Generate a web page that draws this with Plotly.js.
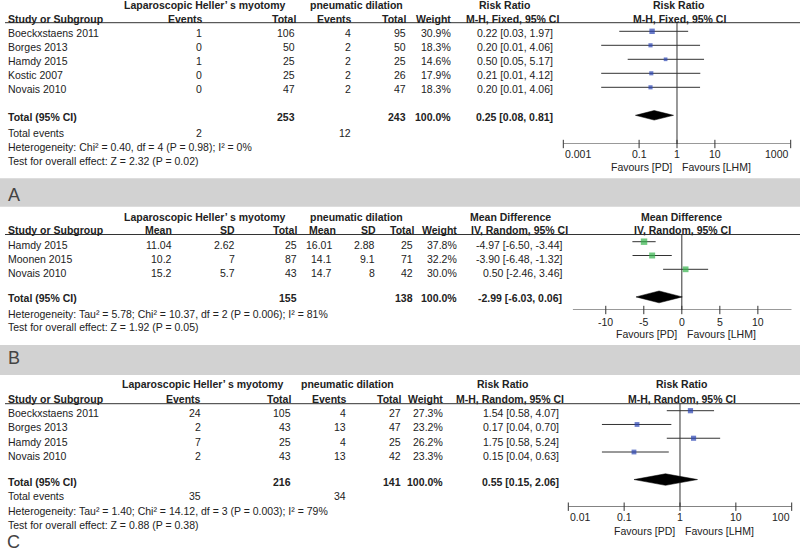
<!DOCTYPE html>
<html><head><meta charset="utf-8">
<script src="https://cdn.plot.ly/plotly-3.0.1.min.js"></script>
<style>html,body{margin:0;padding:0;background:#fff;}#chart{width:800px;height:551px;}</style>
</head><body><div id="chart"></div>
<script>
// ---------------- Panel A data (Risk Ratio, M-H Fixed) ----------------
const studiesA = ["Boeckxstaens 2011","Borges 2013","Hamdy 2015","Kostic 2007","Novais 2010"];
const lhmEventsA = [1,0,1,0,0];
const lhmTotalA = [106,50,25,25,47];
const pdEventsA = [4,2,2,2,2];
const pdTotalA = [95,50,25,26,47];
const weightA = [30.9,18.3,14.6,17.9,18.3];
const rrA = [0.22,0.20,0.50,0.21,0.20];
const rrLowA = [0.03,0.01,0.05,0.01,0.01];
const rrHighA = [1.97,4.06,5.17,4.12,4.06];
const pooledA = {est:0.25, low:0.08, high:0.81};
const totalsA = {lhm:253, pd:243, weight:100.0};
const totalEventsA = {lhm:2, pd:12};
const hetA = "Heterogeneity: Chi² = 0.40, df = 4 (P = 0.98); I² = 0%";
const testA = "Test for overall effect: Z = 2.32 (P = 0.02)";
const tickValsA = [0.001,0.1,1,10,1000];
const tickTextA = ["0.001","0.1","1","10","1000"];

// ---------------- Panel B data (Mean Difference, IV Random) ----------------
const studiesB = ["Hamdy 2015","Moonen 2015","Novais 2010"];
const lhmMeanB = [11.04,10.2,15.2];
const lhmSDB = [2.62,7,5.7];
const lhmTotalB = [25,87,43];
const pdMeanB = [16.01,14.1,14.7];
const pdSDB = [2.88,9.1,8];
const pdTotalB = [25,71,42];
const weightB = [37.8,32.2,30.0];
const mdB = [-4.97,-3.90,0.50];
const mdLowB = [-6.50,-6.48,-2.46];
const mdHighB = [-3.44,-1.32,3.46];
const pooledB = {est:-2.99, low:-6.03, high:0.06};
const totalsB = {lhm:155, pd:138, weight:100.0};
const hetB = "Heterogeneity: Tau² = 5.78; Chi² = 10.37, df = 2 (P = 0.006); I² = 81%";
const testB = "Test for overall effect: Z = 1.92 (P = 0.05)";
const tickValsB = [-10,-5,0,5,10];
const tickTextB = ["-10","-5","0","5","10"];

// ---------------- Panel C data (Risk Ratio, M-H Random) ----------------
const studiesC = ["Boeckxstaens 2011","Borges 2013","Hamdy 2015","Novais 2010"];
const lhmEventsC = [24,2,7,2];
const lhmTotalC = [105,43,25,43];
const pdEventsC = [4,13,4,13];
const pdTotalC = [27,47,25,42];
const weightC = [27.3,23.2,26.2,23.3];
const rrC = [1.54,0.17,1.75,0.15];
const rrLowC = [0.58,0.04,0.58,0.04];
const rrHighC = [4.07,0.70,5.24,0.63];
const pooledC = {est:0.55, low:0.15, high:2.06};
const totalsC = {lhm:216, pd:141, weight:100.0};
const totalEventsC = {lhm:35, pd:34};
const hetC = "Heterogeneity: Tau² = 1.40; Chi² = 14.12, df = 3 (P = 0.003); I² = 79%";
const testC = "Test for overall effect: Z = 0.88 (P = 0.38)";
const tickValsC = [0.01,0.1,1,10,100];
const tickTextC = ["0.01","0.1","1","10","100"];

const groupLHM = "Laparoscopic Heller’ s myotomy";
const groupPD = "pneumatic dilation";
const favourLeft = "Favours [PD]";
const favourRight = "Favours [LHM]";

// ---------------- layout helpers ----------------
const W = 800, H = 551;
const FONT = "Liberation Sans, Arial, Helvetica, sans-serif";
const FS = 10.5, TXT = "#222", LINE = "#333";
const BLUE = "#2b45b3", GREEN = "#34b44b";
const fx = p => p / W, fy = p => 1 - p / H;
const annotations = [], shapes = [], traces = [];

function T(text, x, y, anchor, bold, extra) {
  annotations.push(Object.assign({
    xref: 'paper', yref: 'paper', x: fx(x), y: fy(y), xanchor: anchor, yanchor: 'middle',
    text: bold ? '<b>' + text + '</b>' : String(text), showarrow: false,
    font: {family: FONT, size: FS, color: TXT}
  }, extra || {}));
}
const f2 = v => v.toFixed(2);
const ci = (e, l, h) => f2(e) + ' [' + f2(l) + ', ' + f2(h) + ']';
const pct = w => w.toFixed(1) + '%';

function forest(p) {
  const ax = p.axis; // '', '2', '3'
  const xa = 'x' + ax, ya = 'y' + ax;
  const rowOf = px => (px - p.row0) / p.step;
  const axisRow = rowOf(p.axisPx), topRow = rowOf(p.topPx), ulRow = rowOf(p.underline);
  const n = p.est.length, totRow = n + 1;
  const nullV = p.log ? 1 : 0;
  const toData = r => p.log ? Math.pow(10, r) : r;       // axis units -> data
  const toAnn = v => p.log ? Math.log10(v) : v;          // data -> annotation coordinate
  const base = {type:'scatter', xaxis:xa, yaxis:ya, cliponaxis:false, hoverinfo:'skip'};
  // horizontal axis line
  traces.push(Object.assign({}, base, {mode:'lines', x:[toData(p.range[0]), toData(p.range[1])], y:[axisRow, axisRow],
    line:{color:LINE, width:1}}));
  // null line
  traces.push(Object.assign({}, base, {mode:'lines', x:[nullV, nullV], y:[ulRow, axisRow], line:{color:LINE, width:1}}));
  // CI lines
  const cx = [], cy = [];
  for (let i = 0; i < n; i++) { cx.push(p.low[i], p.high[i], null); cy.push(i, i, null); }
  traces.push(Object.assign({}, base, {mode:'lines', x:cx, y:cy, line:{color:LINE, width:1}}));
  // squares
  traces.push(Object.assign({}, base, {mode:'markers', x:p.est, y:p.est.map((_, i) => i),
    marker:{symbol:'square', color:p.color, size:p.w.map(w => Math.sqrt(w) * p.sq), line:{width:0}}}));
  // diamond
  const d = p.pooled, h = p.dh;
  traces.push(Object.assign({}, base, {mode:'lines',
    x:[d.low, d.est, d.high, d.est, d.low], y:[totRow, totRow - h, totRow, totRow + h, totRow],
    fill:'toself', fillcolor:'#000', line:{color:'#000', width:0.5}}));
  // crossing ticks
  traces.push(Object.assign({}, base, {mode:'markers', x:p.tickVals, y:p.tickVals.map(() => axisRow),
    marker:{symbol:'line-ns', size:6, line:{width:1, color:LINE}}}));
  // tick labels (end labels kept inside the axis as in the reference)
  p.tickVals.forEach((v, i) => {
    let anchor = 'center';
    if (p.insetEnds && i === 0) anchor = 'left';
    if (p.insetEnds && i === p.tickVals.length - 1) anchor = 'right';
    annotations.push({xref:xa, yref:'paper', x:toAnn(v), y:fy(p.tickY), xanchor:anchor, yanchor:'middle',
      xshift: anchor === 'left' ? 0 : (anchor === 'right' ? 0 : 0),
      text:p.tickText[i], showarrow:false, font:{family:FONT, size:FS, color:TXT}});
  });

  p.layout['xaxis' + ax] = {domain:[fx(p.xPx[0]), fx(p.xPx[1])], anchor:ya, type:p.log ? 'log' : 'linear',
    range:p.range, showgrid:false, zeroline:false, showline:false, ticks:'', showticklabels:false, fixedrange:true};
  p.layout['yaxis' + ax] = {domain:[fy(p.axisPx), fy(p.topPx)], anchor:xa, range:[axisRow, topRow],
    visible:false, fixedrange:true};
  // underline of the header
  shapes.push({type:'line', xref:'paper', yref:'paper', x0:fx(5), x1:1, y0:fy(p.underline), y1:fy(p.underline),
    line:{color:LINE, width:1}});
  // plot-column headers
  const ph = (text, y, sh) => annotations.push({xref:xa, yref:'paper', x:toAnn(nullV), y:fy(y), xanchor:'center',
    yanchor:'middle', xshift:sh, text:'<b>' + text + '</b>', showarrow:false, font:{family:FONT, size:FS, color:TXT}});
  ph(p.hdr1, p.h1, p.hs1); ph(p.hdr2, p.h2, p.hs2);
  // favours
  annotations.push({xref:xa, yref:'paper', x:toAnn(nullV), y:fy(p.favY), xanchor:'right', yanchor:'middle', xshift:-3,
    text:favourLeft, showarrow:false, font:{family:FONT, size:FS, color:TXT}});
  annotations.push({xref:xa, yref:'paper', x:toAnn(nullV), y:fy(p.favY), xanchor:'left', yanchor:'middle', xshift:3,
    text:favourRight, showarrow:false, font:{family:FONT, size:FS, color:TXT}});
}

const layout = {
  width:W, height:H, margin:{l:0, r:0, t:0, b:0}, paper_bgcolor:'#fff', plot_bgcolor:'rgba(0,0,0,0)',
  showlegend:false, hovermode:false, font:{family:FONT, size:FS, color:TXT}
};

// ---------------- Panel A ----------------
forest({axis:'', layout, est:rrA, low:rrLowA, high:rrHighA, w:weightA, pooled:pooledA, color:BLUE, sq:0.97, dh:0.34,
  log:true, range:[-3, 3], xPx:[563.3, 790.7], tickVals:tickValsA, tickText:tickTextA, insetEnds:true, tickY:154,
  row0:31.3, step:14, axisPx:144, topPx:3, underline:22.7, favY:166.7,
  hdr1:"Risk Ratio", hdr2:"M-H, Fixed, 95% CI", h1:5, h2:19, hs1:1, hs2:2});
(function () {
  const h1 = 5, h2 = 19, y0 = 33.3, st = 14;
  T(groupLHM, 204.5, h1, 'center', true); T(groupPD, 356, h1, 'center', true); T("Risk Ratio", 504, h1, 'center', true);
  T("Study or Subgroup", 6, h2, 'left', true); T("Events", 205, h2, 'right', true); T("Total", 297.5, h2, 'right', true);
  T("Events", 353.5, h2, 'right', true); T("Total", 407.5, h2, 'right', true); T("Weight", 452.5, h2, 'right', true);
  T("M-H, Fixed, 95% CI", 512.5, h2, 'center', true);
  studiesA.forEach((s, i) => {
    const y = y0 + i * st;
    T(s, 6, y, 'left'); T(lhmEventsA[i], 204, y, 'right'); T(lhmTotalA[i], 297, y, 'right');
    T(pdEventsA[i], 353, y, 'right'); T(pdTotalA[i], 407.5, y, 'right'); T(pct(weightA[i]), 452.5, y, 'right');
    T(ci(rrA[i], rrLowA[i], rrHighA[i]), 555, y, 'right');
  });
  const yt = 117.3;
  T("Total (95% CI)", 6, yt, 'left', true); T(totalsA.lhm, 297, yt, 'right', true); T(totalsA.pd, 407.5, yt, 'right', true);
  T(pct(totalsA.weight), 452.5, yt, 'right', true); T(ci(pooledA.est, pooledA.low, pooledA.high), 555, yt, 'right', true);
  T("Total events", 6, 133.3, 'left'); T(totalEventsA.lhm, 204, 133.3, 'right'); T(totalEventsA.pd, 353, 133.3, 'right');
  T(hetA, 6, 146.7, 'left'); T(testA, 6, 160.7, 'left');
})();
shapes.push({type:'rect', xref:'paper', yref:'paper', x0:0, x1:1, y0:fy(206.7), y1:fy(178.3), fillcolor:'#d2d2d2', line:{width:0}, layer:'below'});
T("A", 6, 194.8, 'left', false, {font:{family:FONT, size:18, color:'#444'}});

// ---------------- Panel B ----------------
forest({axis:'2', layout, est:mdB, low:mdLowB, high:mdHighB, w:weightB, pooled:pooledB, color:GREEN, sq:1.05, dh:0.43,
  log:false, range:[-14.35, 14.45], xPx:[572.7, 791.7], tickVals:tickValsB, tickText:tickTextB, insetEnds:false, tickY:321.7,
  row0:241.7, step:13.8, axisPx:310, topPx:212, underline:234.5, favY:334,
  hdr1:"Mean Difference", hdr2:"IV, Random, 95% CI", h1:216.7, h2:230, hs1:0, hs2:1});
(function () {
  const h1 = 216.7, h2 = 230, y0 = 245, st = 13.85;
  T(groupLHM, 204.5, h1, 'center', true); T(groupPD, 356.7, h1, 'center', true); T("Mean Difference", 510.5, h1, 'center', true);
  T("Study or Subgroup", 6, h2, 'left', true); T("Mean", 173.5, h2, 'right', true); T("SD", 236.5, h2, 'right', true);
  T("Total", 299, h2, 'right', true); T("Mean", 337.5, h2, 'right', true); T("SD", 377.5, h2, 'right', true);
  T("Total", 416, h2, 'right', true); T("Weight", 459, h2, 'right', true); T("IV, Random, 95% CI", 519, h2, 'center', true);
  studiesB.forEach((s, i) => {
    const y = y0 + i * st;
    T(s, 6, y, 'left'); T(String(lhmMeanB[i]), 173.5, y, 'right'); T(String(lhmSDB[i]), 236.5, y, 'right');
    T(lhmTotalB[i], 299, y, 'right'); T(String(pdMeanB[i]), 334, y, 'right'); T(String(pdSDB[i]), 377, y, 'right');
    T(pdTotalB[i], 415, y, 'right'); T(pct(weightB[i]), 459, y, 'right');
    T(ci(mdB[i], mdLowB[i], mdHighB[i]), 564, y, 'right');
  });
  const yt = 298.3;
  T("Total (95% CI)", 6, yt, 'left', true); T(totalsB.lhm, 299, yt, 'right', true); T(totalsB.pd, 415, yt, 'right', true);
  T(pct(totalsB.weight), 459, yt, 'right', true); T(ci(pooledB.est, pooledB.low, pooledB.high), 564, yt, 'right', true);
  T(hetB, 6, 313.5, 'left'); T(testB, 6, 327, 'left');
})();
shapes.push({type:'rect', xref:'paper', yref:'paper', x0:0, x1:1, y0:fy(375), y1:fy(345), fillcolor:'#d2d2d2', line:{width:0}, layer:'below'});
T("B", 6, 358.3, 'left', false, {font:{family:FONT, size:18, color:'#444'}});

// ---------------- Panel C ----------------
forest({axis:'3', layout, est:rrC, low:rrLowC, high:rrHighC, w:weightC, pooled:pooledC, color:BLUE, sq:1.0, dh:0.42,
  log:true, range:[-2, 2], xPx:[568.3, 791.7], tickVals:tickValsC, tickText:tickTextC, insetEnds:true, tickY:516.7,
  row0:410.7, step:13.77, axisPx:506.7, topPx:380, underline:403.7, favY:530.7,
  hdr1:"Risk Ratio", hdr2:"M-H, Random, 95% CI", h1:384.3, h2:399, hs1:1, hs2:2});
(function () {
  const h1 = 384.3, h2 = 399, y0 = 413.3, st = 14.1;
  T(groupLHM, 202.5, h1, 'center', true); T(groupPD, 347.5, h1, 'center', true); T("Risk Ratio", 502.7, h1, 'center', true);
  T("Study or Subgroup", 6, h2, 'left', true); T("Events", 203, h2, 'right', true); T("Total", 293, h2, 'right', true);
  T("Events", 348.5, h2, 'right', true); T("Total", 402.5, h2, 'right', true); T("Weight", 445, h2, 'right', true);
  T("M-H, Random, 95% CI", 510, h2, 'center', true);
  studiesC.forEach((s, i) => {
    const y = y0 + i * st;
    T(s, 6, y, 'left'); T(lhmEventsC[i], 202.5, y, 'right'); T(lhmTotalC[i], 293, y, 'right');
    T(pdEventsC[i], 348, y, 'right'); T(pdTotalC[i], 402.5, y, 'right'); T(pct(weightC[i]), 445, y, 'right');
    T(ci(rrC[i], rrLowC[i], rrHighC[i]), 561, y, 'right');
  });
  const yt = 481.7;
  T("Total (95% CI)", 6, yt, 'left', true); T(totalsC.lhm, 293, yt, 'right', true); T(totalsC.pd, 402.5, yt, 'right', true);
  T(pct(totalsC.weight), 445, yt, 'right', true); T(ci(pooledC.est, pooledC.low, pooledC.high), 561, yt, 'right', true);
  T("Total events", 6, 495.7, 'left'); T(totalEventsC.lhm, 202.5, 495.7, 'right'); T(totalEventsC.pd, 348, 495.7, 'right');
  T(hetC, 6, 511.2, 'left'); T(testC, 6, 524.6, 'left');
})();
T("C", 6, 541.5, 'left', false, {font:{family:FONT, size:18, color:'#444'}, borderpad:0});

layout.annotations = annotations;
layout.shapes = shapes;
Plotly.newPlot('chart', traces, layout, {staticPlot:true, displayModeBar:false});
</script></body></html>
